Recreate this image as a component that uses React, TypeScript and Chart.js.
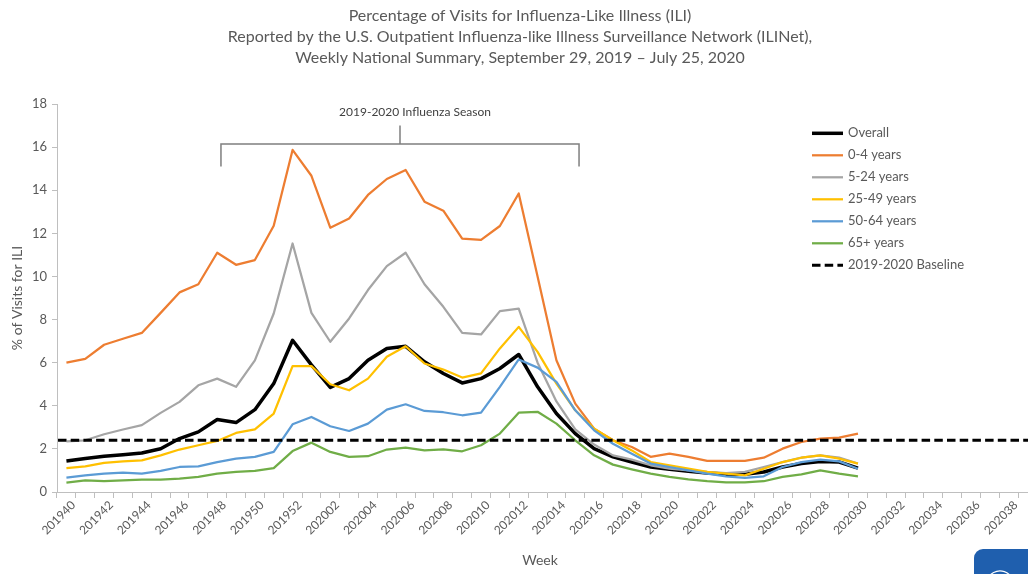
import React, { useEffect, useRef } from "react";
import { Chart, registerables } from "chart.js";

Chart.register(...registerables);

const WEEKS: string[] = [
  "201940", "201941", "201942", "201943", "201944", "201945", "201946", "201947", "201948", "201949",
  "201950", "201951", "201952", "202001", "202002", "202003", "202004", "202005", "202006", "202007",
  "202008", "202009", "202010", "202011", "202012", "202013", "202014", "202015", "202016", "202017",
  "202018", "202019", "202020", "202021", "202022", "202023", "202024", "202025", "202026", "202027",
  "202028", "202029", "202030", "202031", "202032", "202033", "202034", "202035", "202036", "202037",
  "202038", "202039",
];

const OVERALL: number[] = [
  1.44, 1.55, 1.66, 1.73, 1.81, 2.01, 2.48, 2.79, 3.36, 3.22, 3.82, 5.03, 7.04, 5.9, 4.85, 5.26, 6.11,
  6.66, 6.76, 6.04, 5.5, 5.06, 5.26, 5.73, 6.38, 4.88, 3.64, 2.71, 2.01, 1.63, 1.39, 1.16, 1.05, 0.96,
  0.88, 0.82, 0.82, 0.93, 1.16, 1.32, 1.42, 1.39, 1.11,
];
const AGE_0_4: number[] = [
  6.0, 6.18, 6.83, 7.11, 7.38, 8.31, 9.26, 9.64, 11.1, 10.54, 10.76, 12.35, 15.87, 14.67, 12.26, 12.69,
  13.78, 14.52, 14.94, 13.47, 13.05, 11.76, 11.7, 12.34, 13.85, 10.0, 6.11, 4.1, 2.94, 2.4, 2.09, 1.63,
  1.78, 1.63, 1.44, 1.44, 1.44, 1.59, 2.01, 2.32, 2.48, 2.52, 2.71,
];
const AGE_5_24: number[] = [
  2.35, 2.4, 2.68, 2.9, 3.1, 3.67, 4.18, 4.95, 5.26, 4.88, 6.11, 8.28, 11.53, 8.31, 6.97, 8.05, 9.37,
  10.48, 11.1, 9.64, 8.59, 7.38, 7.31, 8.39, 8.51, 6.0, 4.2, 2.9, 2.2, 1.7, 1.5, 1.24, 1.08, 1.0, 0.93,
  0.88, 0.93, 1.16, 1.39, 1.6, 1.7, 1.6, 1.32,
];
const AGE_25_49: number[] = [
  1.11, 1.19, 1.35, 1.42, 1.47, 1.7, 1.97, 2.17, 2.37, 2.74, 2.91, 3.64, 5.84, 5.84, 5.0, 4.72, 5.26,
  6.27, 6.76, 5.96, 5.68, 5.31, 5.5, 6.66, 7.66, 6.5, 5.03, 3.79, 2.94, 2.4, 1.93, 1.39, 1.24, 1.08,
  0.93, 0.85, 0.77, 1.08, 1.39, 1.59, 1.7, 1.55, 1.32,
];
const AGE_50_64: number[] = [
  0.67, 0.77, 0.85, 0.9, 0.85, 0.98, 1.16, 1.19, 1.39, 1.55, 1.63, 1.86, 3.14, 3.48, 3.05, 2.83, 3.17,
  3.82, 4.07, 3.76, 3.7, 3.56, 3.68, 4.88, 6.15, 5.77, 5.11, 3.79, 2.86, 2.24, 1.78, 1.32, 1.16, 1.0,
  0.85, 0.73, 0.66, 0.73, 1.16, 1.39, 1.5, 1.42, 1.08,
];
const AGE_65_PLUS: number[] = [
  0.43, 0.54, 0.5, 0.54, 0.57, 0.57, 0.62, 0.7, 0.85, 0.93, 0.98, 1.11, 1.9, 2.29, 1.86, 1.63, 1.66,
  1.97, 2.06, 1.93, 1.98, 1.89, 2.17, 2.71, 3.68, 3.72, 3.17, 2.4, 1.7, 1.27, 1.05, 0.85, 0.7, 0.59,
  0.5, 0.45, 0.45, 0.5, 0.7, 0.82, 1.0, 0.85, 0.73,
];
const BASELINE = 2.4;

const SERIES_LABELS: string[] = ["Overall", "0-4 years", "5-24 years", "25-49 years", "50-64 years", "65+ years"];
const BASELINE_LABEL = "2019-2020 Baseline";
const TITLE_LINES: string[] = [
  "Percentage of Visits for Influenza-Like Illness (ILI)",
  "Reported by the U.S. Outpatient Influenza-like Illness Surveillance Network (ILINet),",
  "Weekly National Summary, September 29, 2019 \u2013 July 25, 2020",
];
const SEASON_LABEL = "2019-2020 Influenza Season";
const SEASON_START_INDEX = 8.2;
const SEASON_END_INDEX = 27.2;
const X_TITLE = "Week";
const Y_TITLE = "% of Visits for ILI";
const Y_MAX = 18;
const Y_STEP = 2;

const FONT = "Lato, 'Liberation Sans', sans-serif";
const TEXT = "#595959";
const AXIS = "#bfbfbf";

const COLORS = ["#000000", "#ED7D31", "#A5A5A5", "#FFC000", "#5B9BD5", "#70AD47"];
const WIDTHS = [3.5, 2.25, 2.25, 2.25, 2.25, 2.25];

const decorPlugin = {
  id: "decor",
  afterDatasetsDraw(chart: any) {
    const { ctx, chartArea, scales } = chart;
    const y = scales.y;
    const by = y.getPixelForValue(BASELINE);
    ctx.save();
    ctx.strokeStyle = "#000";
    ctx.lineWidth = 3;
    ctx.setLineDash([8.5, 4.2]);
    ctx.beginPath();
    ctx.moveTo(chartArea.left + 1, by);
    ctx.lineTo(chartArea.right, by);
    ctx.stroke();
    ctx.restore();
  },
  afterDraw(chart: any) {
    const { ctx, chartArea, scales } = chart;
    const x = scales.x;
    const y = scales.y;
    ctx.save();
    // titles
    ctx.fillStyle = TEXT;
    ctx.textAlign = "center";
    ctx.textBaseline = "middle";
    ctx.font = `16px ${FONT}`;
    TITLE_LINES.forEach((t, i) => ctx.fillText(t, 520, 16 + i * 21));

    // axis titles
    ctx.font = `14px ${FONT}`;
    ctx.fillText(X_TITLE, 540, 560);
    ctx.save();
    ctx.translate(17, (chartArea.top + chartArea.bottom) / 2);
    ctx.rotate(-Math.PI / 2);
    ctx.fillText(Y_TITLE, 0, 0);
    ctx.restore();

    // season bracket
    const w = x.getPixelForValue(1) - x.getPixelForValue(0);
    const xl = x.getPixelForValue(0) + SEASON_START_INDEX * w;
    const xr = x.getPixelForValue(0) + SEASON_END_INDEX * w;
    const xm = (xl + xr) / 2;
    const yb = y.getPixelForValue(16.15);
    const ye = y.getPixelForValue(15.1);
    const yt = y.getPixelForValue(17.0);
    ctx.strokeStyle = "#7f7f7f";
    ctx.lineWidth = 1.5;
    ctx.beginPath();
    ctx.moveTo(xl, ye);
    ctx.lineTo(xl, yb);
    ctx.lineTo(xr, yb);
    ctx.lineTo(xr, ye);
    ctx.moveTo(xm, yb);
    ctx.lineTo(xm, yt);
    ctx.stroke();
    ctx.fillStyle = "#404040";
    ctx.font = `12px ${FONT}`;
    ctx.fillText(SEASON_LABEL, xm + 15, y.getPixelForValue(17.6));

    // legend
    const items = chart.data.datasets.map((d: any) => ({
      label: d.label,
      color: d.borderColor,
      width: d.borderWidth,
      dash: [] as number[],
    }));
    items.push({ label: BASELINE_LABEL, color: "#000", width: 3, dash: [8.5, 4.2] });
    ctx.textAlign = "left";
    ctx.font = `13px ${FONT}`;
    items.forEach((it: any, i: number) => {
      const ly = 133.3 + i * 22;
      ctx.save();
      ctx.strokeStyle = it.color;
      ctx.lineWidth = it.width;
      ctx.setLineDash(it.dash);
      ctx.beginPath();
      ctx.moveTo(812, ly);
      ctx.lineTo(843, ly);
      ctx.stroke();
      ctx.restore();
      ctx.fillStyle = TEXT;
      ctx.fillText(it.label, 848, ly);
    });

    // logo (partial, bottom right)
    ctx.fillStyle = "#1f5fae";
    ctx.beginPath();
    (ctx as any).roundRect(974, 549, 90, 50, 9);
    ctx.fill();
    ctx.strokeStyle = "#ffffff";
    ctx.lineWidth = 1.2;
    ctx.beginPath();
    ctx.arc(1000, 585, 14, Math.PI * 1.1, Math.PI * 1.8);
    ctx.stroke();
    ctx.beginPath();
    ctx.arc(1004, 588, 12, Math.PI * 1.15, Math.PI * 1.75);
    ctx.stroke();
    ctx.restore();
  },
};

export default function App() {
  const ref = useRef<HTMLCanvasElement | null>(null);
  useEffect(() => {
    if (!ref.current) return;
    const seriesData = [OVERALL, AGE_0_4, AGE_5_24, AGE_25_49, AGE_50_64, AGE_65_PLUS];
    const chart = new Chart(ref.current, {
      type: "line",
      data: {
        labels: WEEKS,
        datasets: seriesData.map((d, i) => ({
          label: SERIES_LABELS[i],
          data: d,
          borderColor: COLORS[i],
          backgroundColor: COLORS[i],
          borderWidth: WIDTHS[i],
          pointRadius: 0,
          tension: 0,
          fill: false,
          order: 10 - i,
          borderJoinStyle: "round" as const,
        })),
      },
      options: {
        animation: false,
        responsive: false,
        devicePixelRatio: 1,
        layout: { padding: { top: 104, right: 3, bottom: 0, left: 0 } },
        plugins: { legend: { display: false }, tooltip: { enabled: false }, title: { display: false } },
        scales: {
          x: {
            type: "category",
            offset: true,
            grid: { display: true, drawOnChartArea: false, offset: true, tickLength: 6, color: AXIS },
            border: { color: AXIS, width: 1 },
            ticks: {
              autoSkip: false,
              minRotation: 45,
              maxRotation: 45,
              padding: 0,
              labelOffset: 7,
              color: TEXT,
              font: { family: FONT, size: 12 },
              callback: (_v: any, i: number) => (i % 2 === 0 ? WEEKS[i] : ""),
            },
            afterFit: (s: any) => {
              s.height = 82;
            },
          },
          y: {
            min: 0,
            max: Y_MAX,
            grid: { display: true, drawOnChartArea: false, tickLength: 5, color: AXIS },
            border: { color: AXIS, width: 1 },
            ticks: { stepSize: Y_STEP, color: TEXT, padding: 5, font: { family: FONT, size: 13 } },
            afterFit: (s: any) => {
              s.width = 57;
            },
          },
        },
      },
      plugins: [decorPlugin],
    });
    return () => chart.destroy();
  }, []);
  return (
    <div style={{ position: "absolute", left: 0, top: 0, width: 1028, height: 574, overflow: "hidden", background: "#fff" }}>
      <canvas ref={ref} width={1040} height={574} style={{ display: "block" }} />
    </div>
  );
}
